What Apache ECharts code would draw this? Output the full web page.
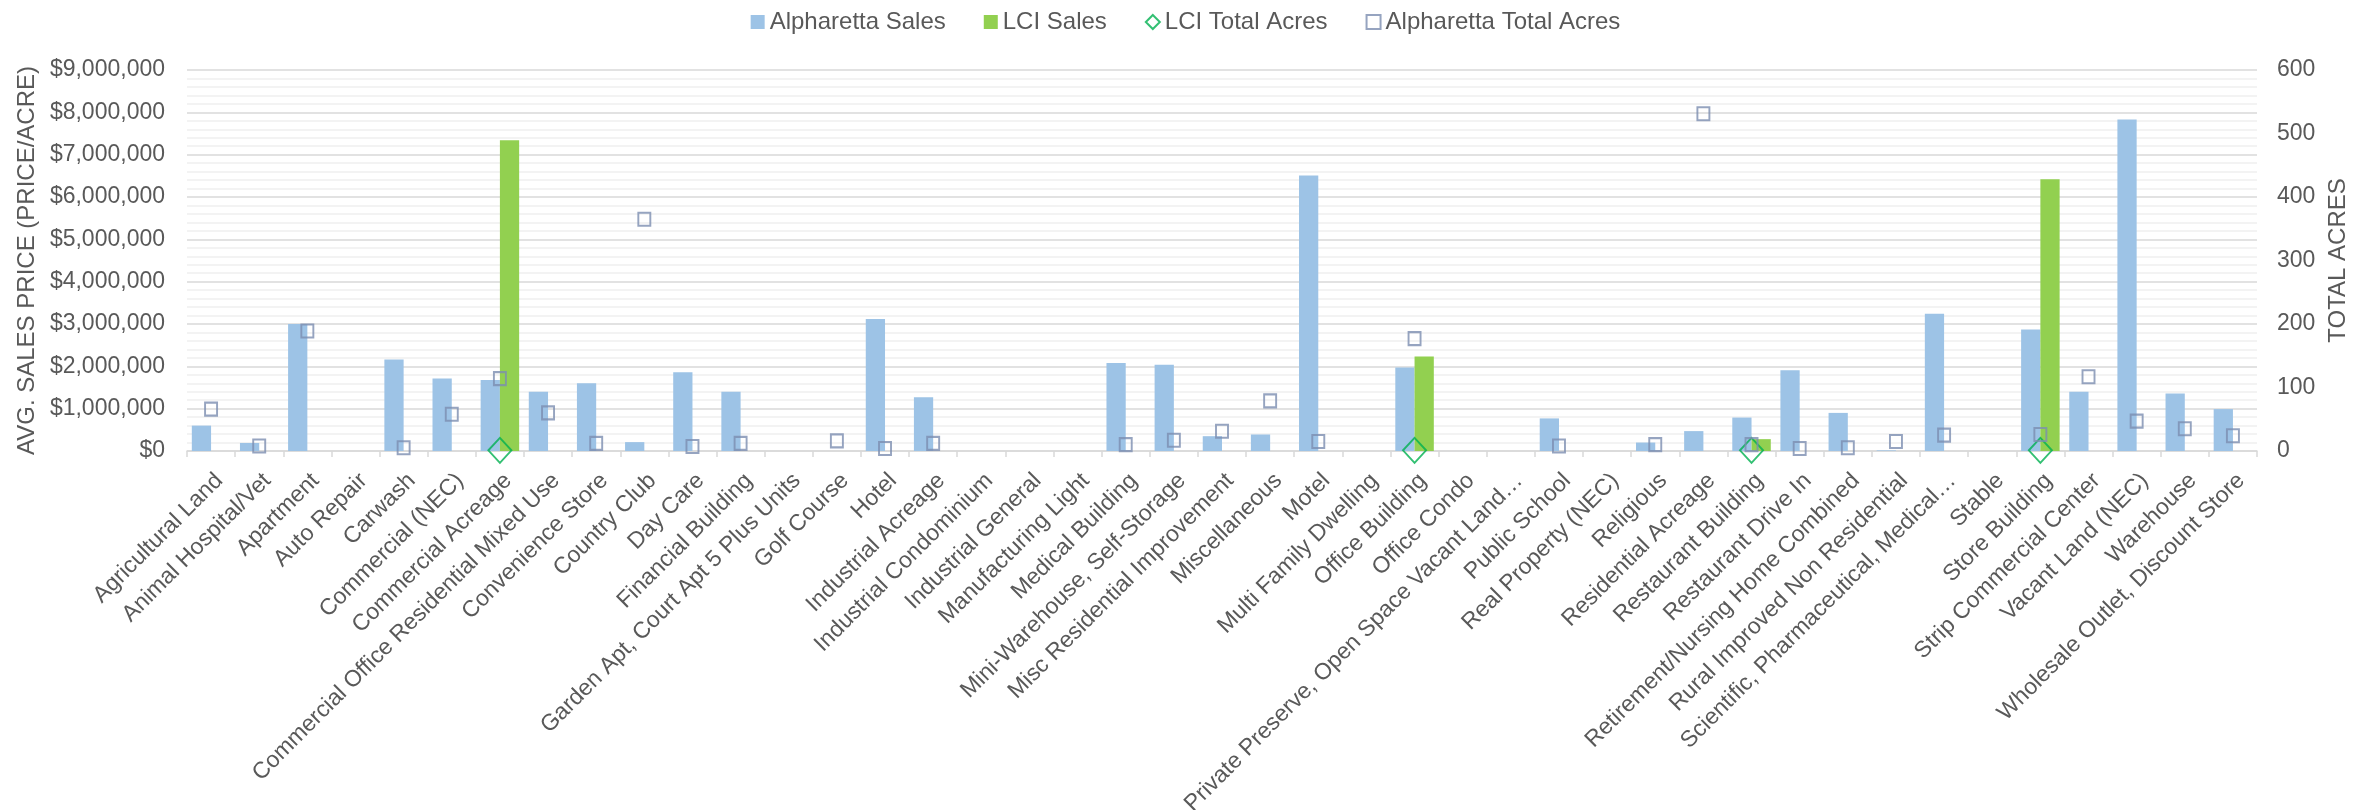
<!DOCTYPE html>
<html>
<head>
<meta charset="utf-8">
<title>Average Sales Price and Total Acres by Land Use</title>
<script src="https://cdn.jsdelivr.net/npm/echarts@6/dist/echarts.min.js"></script>
<style>
  html, body { margin: 0; padding: 0; background: #ffffff; }
  #chart { width: 2371px; height: 810px; }
</style>
</head>
<body>
<div id="chart"></div>
<script>
// Land use categories
const categories = [
  'Agricultural Land', 'Animal Hospital/Vet', 'Apartment', 'Auto Repair', 'Carwash',
  'Commercial (NEC)', 'Commercial Acreage', 'Commercial Office Residential Mixed Use',
  'Convenience Store', 'Country Club', 'Day Care', 'Financial Building',
  'Garden Apt, Court Apt 5 Plus Units', 'Golf Course', 'Hotel', 'Industrial Acreage',
  'Industrial Condominium', 'Industrial General', 'Manufacturing Light', 'Medical Building',
  'Mini-Warehouse, Self-Storage', 'Misc Residential Improvement', 'Miscellaneous', 'Motel',
  'Multi Family Dwelling', 'Office Building', 'Office Condo',
  'Private Preserve, Open Space Vacant Land\u2026', 'Public School', 'Real Property (NEC)',
  'Religious', 'Residential Acreage', 'Restaurant Building', 'Restaurant Drive In',
  'Retirement/Nursing Home Combined', 'Rural Improved Non Residential',
  'Scientific, Pharmaceutical, Medical\u2026', 'Stable', 'Store Building',
  'Strip Commercial Center', 'Vacant Land (NEC)', 'Warehouse', 'Wholesale Outlet, Discount Store'
];

// Average sales price per acre (USD)
const alpharettaSales = [
  600000, 190000, 3000000, null, 2160000,
  1710000, 1680000, 1400000,
  1600000, 210000, 1860000, 1400000,
  null, null, 3120000, 1270000,
  null, null, null, 2080000,
  2040000, 350000, 390000, 6510000,
  null, 1970000, null,
  null, 770000, null,
  200000, 470000, 790000, 1910000,
  900000, 15000,
  3240000, null, 2870000,
  1400000, 7830000, 1360000, 990000
];

const lciSales = [
  null, null, null, null, null,
  null, 7340000, null,
  null, null, null, null,
  null, null, null, null,
  null, null, null, null,
  null, null, null, null,
  null, 2230000, null,
  null, null, null,
  null, null, 280000, null,
  null, null,
  null, null, 6420000,
  null, null, null, null
];

// Total acres
const lciAcres = [
  null, null, null, null, null,
  null, 1, null,
  null, null, null, null,
  null, null, null, null,
  null, null, null, null,
  null, null, null, null,
  null, 1, null,
  null, null, null,
  null, null, 1, null,
  null, null,
  null, null, 1,
  null, null, null, null
];

const alpharettaAcres = [
  66, 8, 189, null, 5,
  58, 114, 60,
  12, 365, 7, 12,
  null, 16, 4, 12,
  null, null, null, 10,
  17, 31, 79, 15,
  null, 177, null,
  null, 8, null,
  10, 531, 10, 4,
  5, 15,
  25, null, 26,
  117, 47, 35, 24
];

// Axis ranges
const priceAxis = { min: 0, max: 9000000, interval: 1000000 };
const acresAxis = { min: 0, max: 600, interval: 100 };

const FONT = "'Liberation Sans', Arial, sans-serif";
const TEXT = '#595959';

const gap = v => (v == null ? '-' : v);
const money = v => '$' + Math.round(v).toString().replace(/\B(?=(\d{3})+(?!\d))/g, ',');

const chart = echarts.init(document.getElementById('chart'), null, { renderer: 'canvas' });

chart.setOption({
  backgroundColor: '#ffffff',
  animation: false,
  textStyle: { fontFamily: FONT, color: TEXT },
  legend: {
    top: 5,
    left: 'center',
    itemWidth: 14,
    itemHeight: 14,
    itemGap: 38,
    textStyle: { fontFamily: FONT, fontSize: 24, color: TEXT },
    data: [
      { name: 'Alpharetta Sales', icon: 'rect' },
      { name: 'LCI Sales', icon: 'rect' },
      { name: 'LCI Total Acres', icon: 'diamond' },
      { name: 'Alpharetta Total Acres', icon: 'rect' }
    ]
  },
  grid: {
    left: 187,
    right: 114,
    top: 70,
    bottom: 359,
    containLabel: false,
    outerBoundsMode: 'none'
  },
  xAxis: {
    type: 'category',
    data: categories,
    boundaryGap: true,
    axisLine: { show: true, lineStyle: { color: '#D9D9D9', width: 1.5 } },
    axisTick: { show: true, length: 6, lineStyle: { color: '#D9D9D9', width: 1.5 } },
    axisLabel: {
      interval: 0,
      rotate: 45,
      margin: 18,
      align: 'right',
      verticalAlign: 'top',
      fontFamily: FONT,
      fontSize: 23,
      color: TEXT
    },
    splitLine: { show: false }
  },
  yAxis: [
    {
      type: 'value',
      min: priceAxis.min,
      max: priceAxis.max,
      interval: priceAxis.interval,
      name: 'AVG. SALES PRICE (PRICE/ACRE)',
      nameLocation: 'middle',
      nameGap: 146,
      nameRotate: 90,
      nameTextStyle: { fontFamily: FONT, fontSize: 24, color: TEXT },
      axisLine: { show: false },
      axisTick: { show: false },
      axisLabel: { margin: 22, fontFamily: FONT, fontSize: 23, color: TEXT, formatter: money },
      splitLine: { show: true, lineStyle: { color: '#D9D9D9', width: 1.5 } },
      minorTick: { show: false, splitNumber: 5 },
      minorSplitLine: { show: true, lineStyle: { color: '#F0F0F0', width: 1.5 } }
    },
    {
      type: 'value',
      min: acresAxis.min,
      max: acresAxis.max,
      interval: acresAxis.interval,
      position: 'right',
      name: 'TOTAL ACRES',
      nameLocation: 'middle',
      nameGap: 69,
      nameRotate: 90,
      nameTextStyle: { fontFamily: FONT, fontSize: 24, color: TEXT },
      axisLine: { show: false },
      axisTick: { show: false },
      axisLabel: { margin: 20, fontFamily: FONT, fontSize: 23, color: TEXT },
      splitLine: { show: false }
    }
  ],
  series: [
    {
      name: 'Alpharetta Sales',
      type: 'bar',
      yAxisIndex: 0,
      barGap: '0%',
      barCategoryGap: '20%',
      itemStyle: { color: '#9DC3E6' },
      data: alpharettaSales.map(gap),
      z: 2
    },
    {
      name: 'LCI Sales',
      type: 'bar',
      yAxisIndex: 0,
      barGap: '0%',
      barCategoryGap: '20%',
      itemStyle: { color: '#92D050' },
      data: lciSales.map(gap),
      z: 2
    },
    {
      name: 'LCI Total Acres',
      type: 'scatter',
      yAxisIndex: 1,
      symbol: 'diamond',
      symbolSize: [23, 25],
      itemStyle: { color: 'rgba(255,255,255,0)', borderColor: '#00B050', borderWidth: 2 },
      data: lciAcres.map(gap),
      z: 4
    },
    {
      name: 'Alpharetta Total Acres',
      type: 'scatter',
      yAxisIndex: 1,
      symbol: 'rect',
      symbolSize: [12, 13],
      itemStyle: { color: 'rgba(255,255,255,0)', borderColor: '#7C8DB0', borderWidth: 2 },
      data: alpharettaAcres.map(gap),
      z: 5
    }
  ]
});
</script>
</body>
</html>
